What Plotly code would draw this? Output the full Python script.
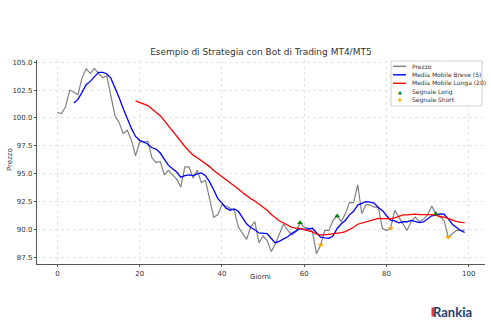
import plotly.graph_objects as go

# Daily closing prices (days 0..99)
days = list(range(100))
prezzo = [
    100.5, 100.4, 101.0, 102.5, 102.3, 102.1, 103.6, 104.4, 104.0, 104.45,
    104.0, 103.6, 103.8, 102.0, 100.2, 99.6, 98.6, 98.9, 98.0, 96.6,
    97.85, 97.85, 97.9, 96.4, 96.0, 96.1, 94.9, 95.3, 94.9, 94.5,
    93.8, 95.6, 95.6, 94.6, 95.3, 94.2, 94.4, 92.8, 91.1, 91.3,
    92.2, 92.1, 91.9, 91.7, 90.2, 89.6, 89.1, 90.2, 90.7, 88.8,
    89.4, 89.0, 88.0, 88.7, 89.6, 90.5, 89.9, 89.5, 89.8, 90.6,
    90.2, 90.1, 89.8, 87.8, 88.6, 89.9, 89.9, 90.8, 91.2, 90.7,
    91.4, 92.4, 92.4, 94.0, 91.4, 92.2, 92.2, 92.0, 92.0, 90.1,
    89.9, 90.1, 91.7, 91.1, 90.6, 89.9, 90.7, 91.1, 90.7, 90.9,
    91.3, 92.1, 91.4, 91.2, 90.8, 89.3, 89.6, 89.9, 89.9, 89.9,
]

# Short moving average (5), defined from day 4
breve_days = list(range(4, 100))
media_breve = [
    101.34, 101.66, 102.30, 102.98, 103.28, 103.71, 104.09, 104.09, 103.97, 103.57,
    102.72, 101.84, 100.84, 99.86, 99.06, 98.34, 97.99, 97.84, 97.64, 97.32,
    97.20, 96.85, 96.26, 95.74, 95.44, 95.14, 94.68, 94.82, 94.88, 94.82,
    94.98, 95.06, 94.82, 94.26, 93.56, 92.76, 92.36, 91.90, 91.72, 91.84,
    91.62, 91.10, 90.50, 90.16, 89.96, 89.68, 89.64, 89.62, 89.18, 88.78,
    88.94, 89.16, 89.34, 89.64, 89.86, 90.06, 90.00, 90.04, 90.10, 89.70,
    89.30, 89.24, 89.20, 89.40, 90.08, 90.50, 90.80, 91.30, 91.62, 92.18,
    92.32, 92.48, 92.44, 92.36, 91.96, 91.70, 91.24, 90.82, 90.76, 90.58,
    90.68, 90.68, 90.80, 90.68, 90.60, 90.66, 90.94, 91.22, 91.28, 91.38,
    91.36, 90.96, 90.46, 90.16, 89.90, 89.72,
]

# Long moving average (20), defined from day 19
lunga_days = list(range(19, 100))
media_lunga = [
    101.53, 101.40, 101.27, 101.11, 100.81, 100.49, 100.19, 99.76, 99.30, 98.85,
    98.35, 97.84, 97.44, 97.03, 96.66, 96.42, 96.15, 95.94, 95.63, 95.29,
    95.02, 94.74, 94.45, 94.15, 93.92, 93.63, 93.30, 93.01, 92.76, 92.55,
    92.26, 92.04, 91.71, 91.33, 91.04, 90.75, 90.57, 90.34, 90.18, 90.11,
    90.08, 89.98, 89.88, 89.77, 89.58, 89.50, 89.51, 89.55, 89.58, 89.61,
    89.70, 89.80, 89.97, 90.19, 90.46, 90.55, 90.63, 90.75, 90.87, 90.98,
    90.96, 90.94, 90.94, 91.04, 91.20, 91.30, 91.30, 91.34, 91.36, 91.33,
    91.34, 91.34, 91.32, 91.27, 91.13, 91.10, 90.96, 90.83, 90.72, 90.62,
    90.61,
]

# Trade signals
long_days = [59, 68, 92]
long_prezzi = [prezzo[d] for d in long_days]
short_days = [64, 81, 95]
short_prezzi = [prezzo[d] for d in short_days]

x_ticks = [0, 20, 40, 60, 80, 100]
y_ticks = [87.5, 90.0, 92.5, 95.0, 97.5, 100.0, 102.5, 105.0]

FONT = "DejaVu Sans"
TXT = "#333333"
AX = "#555555"
W, H = 491, 330
ML, MR, MT, MB = 37, 6, 60, 66
PW, PH = W - ML - MR, H - MT - MB


def px(xp):
    return (xp - ML) / PW


def py(yp):
    return (H - MB - yp) / PH


fig = go.Figure()
fig.add_trace(go.Scatter(x=days, y=prezzo, mode="lines", name="Prezzo",
                         line=dict(color="gray", width=1.2)))
fig.add_trace(go.Scatter(x=breve_days, y=media_breve, mode="lines",
                         name="Media Mobile Breve (5)",
                         line=dict(color="blue", width=1.3)))
fig.add_trace(go.Scatter(x=lunga_days, y=media_lunga, mode="lines",
                         name="Media Mobile Lunga (20)",
                         line=dict(color="red", width=1.3)))
fig.add_trace(go.Scatter(x=long_days, y=long_prezzi, mode="markers",
                         name="Segnale Long",
                         marker=dict(symbol="triangle-up", color="green", size=5)))
fig.add_trace(go.Scatter(x=short_days, y=short_prezzi, mode="markers",
                         name="Segnale Short",
                         marker=dict(symbol="triangle-down", color="orange", size=5)))

axis_common = dict(
    showline=True, linecolor=AX, linewidth=1.3, mirror=False,
    ticks="outside", ticklen=2, tickcolor=AX, tickwidth=1,
    showgrid=True, gridcolor="#e4e4e4", griddash="dot", gridwidth=1,
    zeroline=False, tickfont=dict(family=FONT, size=7, color=TXT),
)

fig.update_layout(
    width=W, height=H,
    margin=dict(l=ML, r=MR, t=MT, b=MB, autoexpand=False),
    paper_bgcolor="white", plot_bgcolor="white",
    font=dict(family=FONT, size=7, color=TXT),
    title=dict(text="Esempio di Strategia con Bot di Trading MT4/MT5",
               font=dict(family=FONT, size=9, color=TXT),
               x=260.9 / W, xanchor="center", y=1 - 52 / H, yanchor="middle",
               xref="container", yref="container"),
    xaxis=dict(range=[-4.95, 103.95], tickvals=x_ticks, **axis_common),
    yaxis=dict(range=[86.89, 105.2], tickvals=y_ticks,
               ticktext=[f"{v:.1f}" for v in y_ticks], **axis_common),
    showlegend=False,
)

# Axis titles
fig.add_annotation(text="Giorni", xref="paper", yref="paper", x=px(260.9), y=py(277),
                   xanchor="center", yanchor="middle", showarrow=False,
                   font=dict(family=FONT, size=7, color=TXT))
fig.add_annotation(text="Prezzo", xref="paper", yref="paper", x=px(10), y=py(160),
                   xanchor="center", yanchor="middle", showarrow=False, textangle=-90,
                   font=dict(family=FONT, size=7, color=TXT))

# Legend box
fig.add_shape(type="rect", xref="paper", yref="paper",
              x0=px(391), x1=px(482), y0=py(106), y1=py(61),
              line=dict(color="#d0d0d0", width=1), fillcolor="rgba(255,255,255,0.9)",
              layer="above")
legend_items = [
    ("Prezzo", "line", "gray"),
    ("Media Mobile Breve (5)", "line", "blue"),
    ("Media Mobile Lunga (20)", "line", "red"),
    ("Segnale Long", "up", "green"),
    ("Segnale Short", "down", "orange"),
]
for i, (label, kind, color) in enumerate(legend_items):
    yy = 66.3 + i * 8.5
    if kind == "line":
        fig.add_shape(type="line", xref="paper", yref="paper",
                      x0=px(393), x1=px(406), y0=py(yy), y1=py(yy),
                      line=dict(color=color, width=1.4), layer="above")
    else:
        fig.add_annotation(text="▲" if kind == "up" else "▼", xref="paper", yref="paper",
                           x=px(399.5), y=py(yy), xanchor="center", yanchor="middle",
                           showarrow=False, font=dict(family=FONT, size=5, color=color))
    fig.add_annotation(text=label, xref="paper", yref="paper", x=px(410), y=py(yy),
                       xanchor="left", yanchor="middle", showarrow=False,
                       font=dict(family=FONT, size=6, color=TXT))

# Brand mark
fig.add_annotation(text="<b>Rankia</b>", xref="paper", yref="paper",
                   x=px(452), y=py(312), xanchor="center",
                   yanchor="middle", showarrow=False,
                   font=dict(family="Lato", size=13, color="#1f3d6e"))
fig.add_shape(type="rect", xref="paper", yref="paper",
              x0=px(431.5), x1=px(434), y0=py(316.5), y1=py(307.5),
              line=dict(width=0), fillcolor="#e23a2e", layer="above")

fig.write_html("out.html")
